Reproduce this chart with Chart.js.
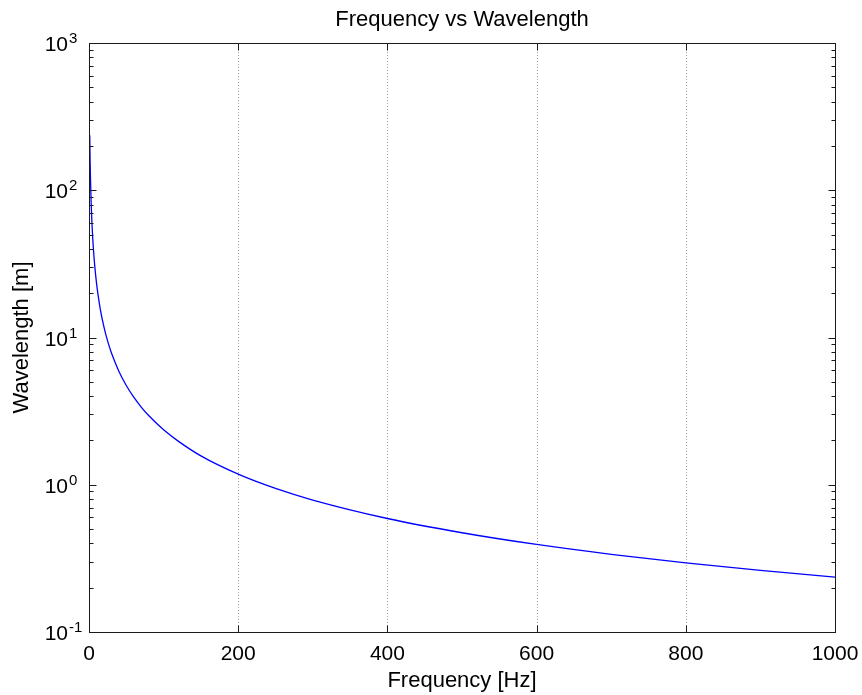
<!DOCTYPE html>
<html>
<head>
<meta charset="utf-8">
<title>Frequency vs Wavelength</title>
<script src="https://cdn.jsdelivr.net/npm/chart.js@4"></script>
<style>
  html, body { margin: 0; padding: 0; background: #fff; }
  canvas { display: block; }
</style>
</head>
<body>
<canvas id="waveChart" width="862" height="695"></canvas>
<script>
// values
const frequency = [1, 1.5, 2, 3, 4, 5, 6, 8, 10, 12, 15, 20, 25, 30, 40, 50, 60, 70, 80, 100,
  120, 150, 200, 250, 300, 400, 500, 600, 700, 800, 900, 1000];
const wavelength = [236, 157, 118, 78.7, 59, 47.2, 39.3, 29.5, 23.6, 19.7, 15.7, 11.8, 9.44, 7.87,
  5.9, 4.72, 3.93, 3.37, 2.95, 2.36, 1.97, 1.57, 1.18, 0.944, 0.787, 0.59, 0.472, 0.393,
  0.337, 0.295, 0.262, 0.236];

const xTicks = [0, 200, 400, 600, 800, 1000];
const yExponents = [-1, 0, 1, 2, 3];

const FONT = '"Liberation Sans", Arial, Helvetica, sans-serif';

// frame, ticks and labels in the matlab look
const matlabAxes = {
  id: "matlabAxes",
  beforeDatasetsDraw(chart) {
    const { ctx, chartArea: a, scales: { x } } = chart;
    ctx.save();
    ctx.strokeStyle = "#a0a0a0";
    ctx.lineWidth = 1;
    ctx.setLineDash([1, 2]);
    xTicks.slice(1, -1).forEach(v => {
      const px = Math.round(x.getPixelForValue(v)) + 0.5;
      ctx.beginPath();
      ctx.moveTo(px, a.top);
      ctx.lineTo(px, a.bottom);
      ctx.stroke();
    });
    ctx.restore();
  },
  afterDatasetsDraw(chart) {
    const { ctx, chartArea: a, scales: { x, y } } = chart;
    const L = Math.round(a.left) + 0.5, R = Math.round(a.right) + 0.5;
    const T = Math.round(a.top) + 0.5, B = Math.round(a.bottom) + 0.5;
    ctx.save();
    ctx.strokeStyle = "#1a1a1a";
    ctx.lineWidth = 1;
    ctx.strokeRect(L, T, R - L, B - T);

    ctx.beginPath();
    // x ticks, bottom and top
    xTicks.forEach(v => {
      const px = Math.round(x.getPixelForValue(v)) + 0.5;
      ctx.moveTo(px, B); ctx.lineTo(px, B - 7);
      ctx.moveTo(px, T); ctx.lineTo(px, T + 7);
    });
    // y ticks, major and minor, left and right
    yExponents.forEach(e => {
      for (let m = 1; m <= 9; m++) {
        if (e === 3 && m > 1) break;
        const py = Math.round(y.getPixelForValue(m * Math.pow(10, e))) + 0.5;
        const len = m === 1 ? 7 : 4;
        ctx.moveTo(L, py); ctx.lineTo(L + len, py);
        ctx.moveTo(R, py); ctx.lineTo(R - len, py);
      }
    });
    ctx.stroke();

    ctx.fillStyle = "#000";
    // x tick labels
    ctx.font = "21px " + FONT;
    ctx.textAlign = "center";
    ctx.textBaseline = "alphabetic";
    xTicks.forEach(v => {
      ctx.fillText(String(v), x.getPixelForValue(v), 660);
    });

    // y tick labels 10^n
    yExponents.forEach(e => {
      const py = y.getPixelForValue(Math.pow(10, e));
      ctx.font = "21px " + FONT;
      ctx.textAlign = "right";
      ctx.fillText("10", 68, py + 8);
      ctx.font = "15px " + FONT;
      ctx.textAlign = "left";
      ctx.fillText(String(e).replace("-", "-"), 69, py);
    });

    // titles
    ctx.font = "22px " + FONT;
    ctx.textAlign = "center";
    const cx = (a.left + a.right) / 2;
    ctx.fillText("Frequency vs Wavelength", cx, 26);
    ctx.fillText("Frequency [Hz]", cx, 687);
    ctx.translate(28, (a.top + a.bottom) / 2);
    ctx.rotate(-Math.PI / 2);
    ctx.fillText("Wavelength [m]", 0, 0);
    ctx.restore();
  }
};

const points = frequency.map((f, i) => ({ x: f, y: wavelength[i] }));

new Chart(document.getElementById("waveChart"), {
  type: "line",
  data: {
    datasets: [{
      data: points,
      borderColor: "#0000ff",
      borderWidth: 1.3,
      pointRadius: 0,
      fill: false,
      cubicInterpolationMode: "monotone"
    }]
  },
  options: {
    responsive: false,
    animation: false,
    devicePixelRatio: 1,
    layout: { padding: { left: 89, right: 27, top: 43, bottom: 63 } },
    plugins: { legend: { display: false }, tooltip: { enabled: false } },
    scales: {
      x: {
        type: "linear", min: 0, max: 1000,
        display: false
      },
      y: {
        type: "logarithmic", min: 0.1, max: 1000,
        display: false
      }
    }
  },
  plugins: [matlabAxes]
});
</script>
</body>
</html>
